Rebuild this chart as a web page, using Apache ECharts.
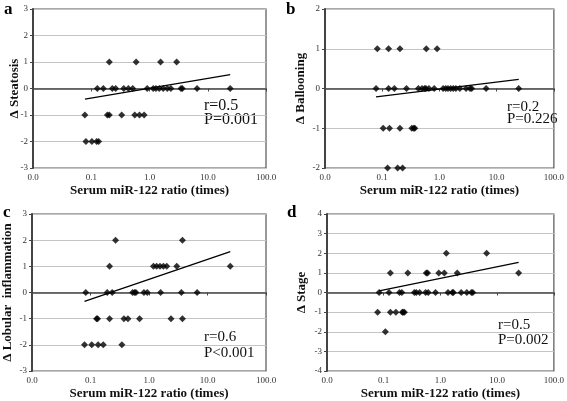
<!DOCTYPE html>
<html><head><meta charset="utf-8">
<script src="https://cdn.jsdelivr.net/npm/echarts@6/dist/echarts.min.js"></script>
<style>html,body{margin:0;padding:0;background:#fff}#c{width:567px;height:401px}</style>
</head><body><div id="c"></div>
<script>
// Panel a: Steatosis
const steatosisX = [0.204,0.589,1.55,2.92, 0.127,0.161,0.23,0.263,0.361,0.434,0.516,0.912,1.156,1.29,1.47,1.72,2.02,2.33,3.47,3.66,6.55,24.3, 0.0778,0.189,0.204,0.333,0.558,0.673,0.809, 0.081,0.1026,0.124,0.134];
const steatosisY = [1,1,1,1, 0,0,0,0,0,0,0,0,0,0,0,0,0,0,0,0,0,0, -1,-1,-1,-1,-1,-1,-1, -2,-2,-2,-2];
const trendAX = [0.078, 24.3];
const trendAY = [-0.4, 0.52];
// Panel b: Ballooning
const balloonX = [0.082,0.129,0.204,0.589,0.91, 0.078,0.129,0.163,0.266,0.428,0.496,0.551,0.581,0.655,0.809,1.16,1.29,1.41,1.57,1.74,1.94,2.27,2.92,3.42,3.66,6.55,24.3, 0.104,0.134,0.204,0.329,0.356,0.371, 0.124,0.186,0.227];
const balloonY = [1,1,1,1,1, 0,0,0,0,0,0,0,0,0,0,0,0,0,0,0,0,0,0,0,0,0,0, -1,-1,-1,-1,-1,-1, -2,-2,-2];
const trendBX = [0.078, 24.3];
const trendBY = [-0.21, 0.227];
// Panel c: Lobular inflammation
const lobularX = [0.268,3.73, 0.212,1.19,1.35,1.54,1.76,2.01,2.98,24.5, 0.083,0.193,0.235,0.525,0.568,0.598,0.82,0.935,1.58,3.58,6.65, 0.127,0.132,0.212,0.373,0.437,0.69,2.38,3.73, 0.079,0.105,0.135,0.165,0.344];
const lobularY = [2,2, 1,1,1,1,1,1,1,1, 0,0,0,0,0,0,0,0,0,0,0, -1,-1,-1,-1,-1,-1,-1,-1, -2,-2,-2,-2,-2];
const trendCX = [0.079, 24.5];
const trendCY = [-0.34, 1.56];
// Panel d: Stage
const stageX = [1.27,6.52, 0.131,0.266,0.562,0.593,0.935,1.17,1.98,23.9, 0.083,0.124,0.19,0.209,0.347,0.376,0.43,0.548,0.609,0.818,1.36,1.62,1.69,2.32,2.92,3.52,3.72, 0.078,0.131,0.164,0.212,0.22,0.232, 0.107];
const stageY = [2,2, 1,1,1,1,1,1,1,1, 0,0,0,0,0,0,0,0,0,0,0,0,0,0,0,0,0, -1,-1,-1,-1,-1,-1, -2];
const trendDX = [0.083, 23.9];
const trendDY = [0.08, 1.53];

const xTicks = [0.01, 0.1, 1, 10, 100];
const xTitle = 'Serum miR-122 ratio (times)';

const SERIF = '"Liberation Serif","Times New Roman",serif';
const panels = [
  {xs: steatosisX, ys: steatosisY, tx: trendAX, ty: trendAY, ymin: -3, ymax: 3, name: 'Δ Steatosis', grid: {left: 33, top: 9, width: 233, height: 159}, gap: 12,
   letter: 'a', lp: [4, 10], txt: ['r=0.5', 'P=0.001'], tp: [204, 106, 120], fs: 16},
  {xs: balloonX, ys: balloonY, tx: trendBX, ty: trendBY, ymin: -2, ymax: 2, name: 'Δ Ballooning', grid: {left: 325, top: 9, width: 232, height: 159}, gap: 18,
   letter: 'b', lp: [286, 10], txt: ['r=0.2', 'P=0.226'], tp: [507, 107, 119], fs: 15},
  {xs: lobularX, ys: lobularY, tx: trendCX, ty: trendCY, ymin: -3, ymax: 3, name: 'Δ Lobular  inflammation', grid: {left: 32, top: 214, width: 234, height: 158}, gap: 18,
   letter: 'c', lp: [3, 213], txt: ['r=0.6', 'P<0.001'], tp: [204, 337, 353], fs: 15},
  {xs: stageX, ys: stageY, tx: trendDX, ty: trendDY, ymin: -4, ymax: 4, name: 'Δ Stage', grid: {left: 327, top: 214, width: 230, height: 158}, gap: 19,
   letter: 'd', lp: [287, 213], txt: ['r=0.5', 'P=0.002'], tp: [498, 325, 340], fs: 15}
];

const grid = [], xAxis = [], yAxis = [], series = [], graphic = [];
panels.forEach((p, i) => {
  grid.push(Object.assign({show: true, borderColor: '#555', borderWidth: 1.2, backgroundColor: 'transparent'}, p.grid));
  xAxis.push({
    type: 'log', logBase: 10, gridIndex: i, min: xTicks[0], max: xTicks[xTicks.length - 1],
    name: xTitle, nameLocation: 'middle', nameGap: 16, nameMoveOverlap: false,
    nameTextStyle: {fontFamily: SERIF, fontWeight: 'bold', fontSize: 13, color: '#111'},
    axisLine: {show: true, lineStyle: {color: '#444', width: 1.5}},
    axisTick: {show: true, inside: false, length: 3, lineStyle: {color: '#444'}},
    axisLabel: {fontFamily: SERIF, fontSize: 9, color: '#333', margin: 5, formatter: v => Number(v).toFixed(1)},
    splitLine: {show: false}, minorTick: {show: false}
  });
  yAxis.push({
    type: 'value', gridIndex: i, min: p.ymin, max: p.ymax, interval: 1,
    name: p.name, nameLocation: 'middle', nameGap: p.gap, nameMoveOverlap: false,
    nameTextStyle: {fontFamily: SERIF, fontWeight: 'bold', fontSize: 13, color: '#111'},
    axisLine: {show: true, lineStyle: {color: '#444', width: 2}},
    axisTick: {show: true, inside: false, length: 3, lineStyle: {color: '#444'}},
    axisLabel: {fontFamily: SERIF, fontSize: 9, color: '#333', margin: 5},
    splitLine: {show: true, lineStyle: {color: '#c4c4c4', width: 1}}
  });
  series.push({
    type: 'scatter', xAxisIndex: i, yAxisIndex: i, symbol: 'diamond', symbolSize: [7, 7],
    itemStyle: {color: '#000'}, silent: true,
    data: p.xs.map((x, k) => [x, p.ys[k]])
  });
  series.push({
    type: 'line', xAxisIndex: i, yAxisIndex: i, symbol: 'none', silent: true,
    lineStyle: {color: '#000', width: 1.3},
    data: p.tx.map((x, k) => [x, p.ty[k]])
  });
  graphic.push({type: 'text', left: p.lp[0], top: p.lp[1] - 9,
    style: {text: p.letter, font: 'bold 17px ' + SERIF, fill: '#000'}});
  graphic.push({type: 'text', x: p.tp[0], y: p.tp[1],
    style: {text: p.txt[0], font: p.fs + 'px ' + SERIF, fill: '#111', verticalAlign: 'middle'}});
  graphic.push({type: 'text', x: p.tp[0], y: p.tp[2],
    style: {text: p.txt[1], font: p.fs + 'px ' + SERIF, fill: '#111', verticalAlign: 'middle'}});
});

const chart = echarts.init(document.getElementById('c'), null, {renderer: 'canvas'});
chart.setOption({animation: false, backgroundColor: '#fff', grid, xAxis, yAxis, series, graphic});
</script></body></html>
